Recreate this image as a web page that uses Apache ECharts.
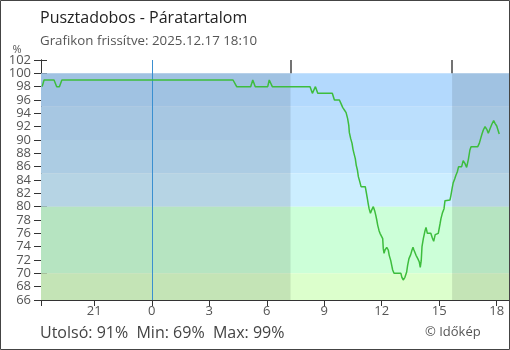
<!DOCTYPE html>
<html>
<head>
<meta charset="utf-8">
<script src="https://cdn.jsdelivr.net/npm/echarts@6/dist/echarts.min.js"></script>
<style>
html,body{margin:0;padding:0;background:#fff;}
#c{width:510px;height:350px;}
</style>
</head>
<body>
<div id="c"></div>
<script>
// Time in hours relative to midnight of 2025.12.17 (negative = previous day)
const hours = [
  -5.72, -5.62, -5.10, -4.96, -4.82, -4.69, 4.24, 4.43, 5.16, 5.27, 5.40, 6.05, 6.13, 6.29,
  8.26, 8.38, 8.54, 8.66, 9.42, 9.53, 9.79, 9.87, 9.96, 10.05, 10.14, 10.22, 10.28, 10.31,
  10.38, 10.45, 10.50, 10.55, 10.62, 10.67, 10.73, 10.78, 10.85, 10.92, 11.14, 11.19, 11.25,
  11.29, 11.34, 11.41, 11.46, 11.56, 11.63, 11.69, 11.74, 11.79, 11.86, 11.91, 12.01, 12.05,
  12.08, 12.12, 12.17, 12.26, 12.34, 12.39, 12.47, 12.52, 12.57, 12.64, 13.00, 13.05, 13.12,
  13.21, 13.30, 13.35, 13.42, 13.51, 13.58, 13.63, 13.68, 13.79, 13.88, 13.96, 14.01, 14.06,
  14.10, 14.17, 14.26, 14.31, 14.38, 14.56, 14.64, 14.71, 14.79, 14.95, 15.04, 15.09, 15.16,
  15.25, 15.30, 15.56, 15.61, 15.67, 15.73, 15.81, 15.87, 15.94, 16.01, 16.17, 16.25, 16.34,
  16.43, 16.52, 16.60, 16.66, 17.01, 17.09, 17.16, 17.23, 17.30, 17.39, 17.48, 17.56, 17.65,
  17.75, 17.84, 17.91, 18.00, 18.08, 18.13
];
const humidity = [
  98, 99, 99, 98, 98, 99, 99, 98, 98, 99, 98, 98, 99, 98,
  98, 97, 98, 97, 97, 96, 96, 95.5, 94.9, 94.5, 94.1, 93.2, 92.2, 91.1,
  90.2, 89.5, 88.6, 88, 87.2, 86.2, 85.5, 84.5, 83.8, 83, 83, 82.2, 81.2,
  80.5, 79.7, 79, 79.4, 80, 79.4, 78.7, 78, 77.2, 76.4, 76, 76, 75.2,
  73.7, 73, 73.5, 73.9, 73.5, 72.7, 71.9, 71.2, 70.5, 70, 70, 69.4, 69,
  69.4, 70.2, 71.2, 72.2, 72.8, 73.5, 73.9, 73.5, 72.7, 72.2, 71.7, 70.9, 71.9,
  74, 75.2, 76.4, 76.9, 76, 76, 75.3, 74.8, 75.8, 76, 77.4, 78.2, 79,
  79.7, 80.9, 81, 81.7, 82.7, 83.6, 84.2, 84.7, 85.2, 86, 86, 86.9, 86.5,
  85.9, 87.1, 88.5, 89, 89, 89.5, 90.2, 90.9, 91.5, 92, 91.6, 91, 91.7,
  92.4, 92.9, 92.5, 92.1, 91.9, 90.9
];
const xTickHours = [-3, 0, 3, 6, 9, 12, 15, 18];
const bandTops    = [100, 95, 90, 85, 80, 70];
const bandBottoms = [95, 90, 85, 80, 70, 66];
const bandColors  = ['#b3d9fd', '#bbdffd', '#c1e5fe', '#cceeff', '#ccffd8', '#dcffcc'];
const sunrise = 7.24;
const sunset = 15.67;
const xMin = -5.78, xMax = 18.64;
const yMin = 66, yMax = 102;

const FONT = "'Open Sans', 'Noto Sans', sans-serif";
const chart = echarts.init(document.getElementById('c'), null, {renderer: 'canvas'});

const lineData = hours.map((h, i) => [h, humidity[i]]);

const option = {
  animation: false,
  textStyle: {fontFamily: FONT},
  grid: {left: 41, right: 1, top: 60, bottom: 50, containLabel: false},
  xAxis: [
    {
      type: 'value', min: xMin, max: xMax, position: 'bottom',
      splitLine: {show: false},
      axisLine: {show: true, onZero: false, lineStyle: {color: '#333', width: 1}},
      axisTick: {show: true, inside: true, length: 6, customValues: xTickHours, lineStyle: {color: '#333'}},
      axisLabel: {show: false}
    },
    {
      type: 'value', min: xMin, max: xMax, position: 'bottom', offset: 0,
      splitLine: {show: false},
      axisLine: {show: true, onZero: false, lineStyle: {color: '#333', width: 1}},
      axisTick: {show: true, inside: false, length: 6, customValues: [xMin].concat(xTickHours), lineStyle: {color: '#333'}},
      axisLabel: {
        show: true, customValues: xTickHours, margin: 5,
        color: '#555', fontSize: 13, fontFamily: FONT,
        formatter: v => String(v < 0 ? v + 24 : v)
      }
    }
  ],
  yAxis: [
    {
      type: 'value', min: yMin, max: yMax, interval: 2, position: 'left',
      splitLine: {show: false},
      axisLine: {show: true, onZero: false, lineStyle: {color: '#333', width: 1}},
      axisTick: {show: true, inside: true, length: 6, lineStyle: {color: '#333'}},
      axisLabel: {show: false}
    },
    {
      type: 'value', min: yMin, max: yMax, interval: 2, position: 'left', offset: 0,
      splitLine: {show: false},
      axisLine: {show: true, onZero: false, lineStyle: {color: '#333', width: 1}},
      axisTick: {show: true, inside: false, length: 7, lineStyle: {color: '#333'}},
      axisLabel: {show: true, margin: 10, color: '#555', fontSize: 13, fontFamily: FONT, hideOverlap: false}
    }
  ],
  series: [
    {
      type: 'line', xAxisIndex: 0, yAxisIndex: 0, data: [], silent: true, z: 1,
      markArea: {
        silent: true,
        data: bandTops.map((t, i) => [
          {yAxis: t, xAxis: xMin, itemStyle: {color: bandColors[i], opacity: 1}},
          {yAxis: bandBottoms[i], xAxis: xMax}
        ])
      }
    },
    {
      type: 'line', xAxisIndex: 0, yAxisIndex: 0, data: [], silent: true, z: 2,
      markArea: {
        silent: true,
        itemStyle: {color: 'rgba(0,0,0,0.105)'},
        data: [
          [{xAxis: xMin, yAxis: 100}, {xAxis: sunrise, yAxis: yMin}],
          [{xAxis: sunset, yAxis: 100}, {xAxis: xMax, yAxis: yMin}]
        ]
      }
    },
    {
      type: 'line', xAxisIndex: 0, yAxisIndex: 0, z: 5,
      data: lineData,
      showSymbol: false, symbol: 'none',
      lineStyle: {color: '#3dbd3d', width: 1.5},
      markLine: {
        silent: true, symbol: 'none', label: {show: false},
        data: [
          {xAxis: 0, lineStyle: {color: '#3a8fd0', width: 1, type: 'solid'}},
          [{coord: [sunrise, yMax], lineStyle: {color: '#444', width: 1.5, type: 'solid'}}, {coord: [sunrise, 100]}],
          [{coord: [sunset, yMax], lineStyle: {color: '#444', width: 1.5, type: 'solid'}}, {coord: [sunset, 100]}]
        ]
      }
    }
  ],
  graphic: [
    {type: 'rect', shape: {x: 0.5, y: 0.5, width: 509, height: 349}, style: {fill: null, stroke: '#444', lineWidth: 1}, z: 100, silent: true},
    {type: 'text', x: 40, y: 18, style: {text: 'Pusztadobos - Páratartalom', font: "16px " + FONT, fill: '#222', verticalAlign: 'middle'}},
    {type: 'text', x: 40, y: 41, style: {text: 'Grafikon frissítve: 2025.12.17 18:10', font: "13.3px " + FONT, fill: '#555', verticalAlign: 'middle'}},
    {type: 'text', x: 17, y: 50, style: {text: '%', font: "11px " + FONT, fill: '#555', align: 'center', verticalAlign: 'middle'}},
    {type: 'text', x: 40, y: 333, style: {text: 'Utolsó: 91%  Min: 69%  Max: 99%', font: "16px " + FONT, fill: '#444', verticalAlign: 'middle'}},
    {type: 'text', x: 425, y: 332, style: {text: '© Időkép', font: "13px " + FONT, fill: '#555', verticalAlign: 'middle'}}
  ]
};
chart.setOption(option);
</script>
</body>
</html>
